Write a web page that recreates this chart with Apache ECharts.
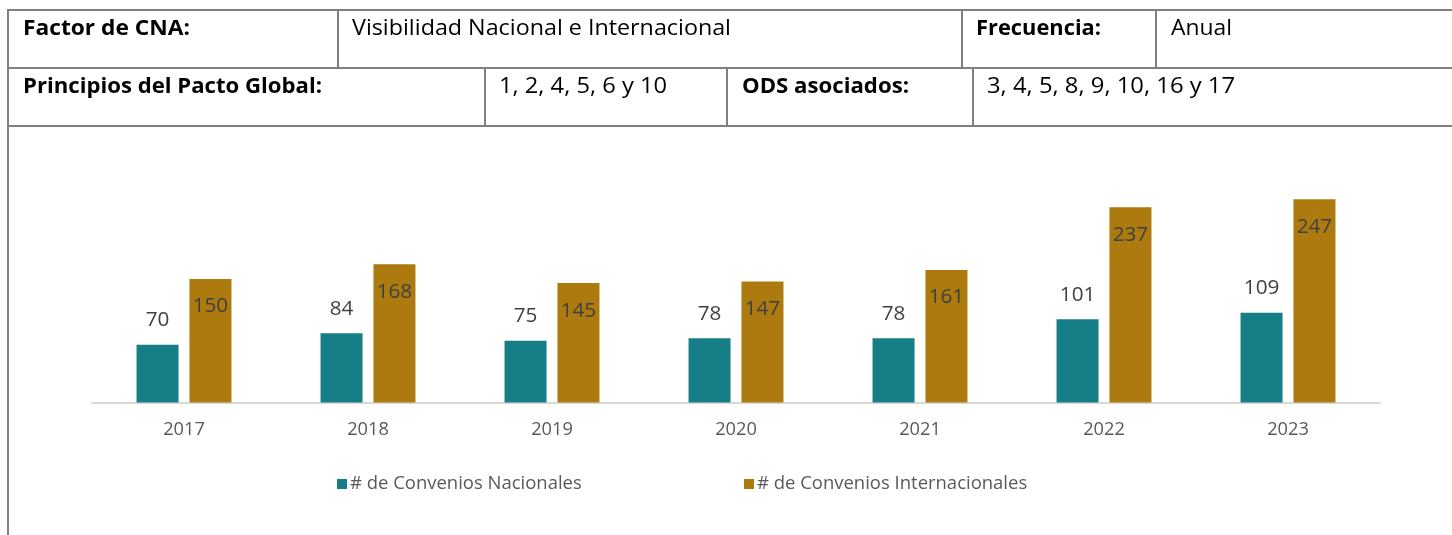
<!DOCTYPE html>
<html>
<head>
<meta charset="utf-8">
<script src="https://cdn.jsdelivr.net/npm/echarts@6/dist/echarts.min.js"></script>
<style>
  html, body { margin: 0; padding: 0; background: #ffffff; overflow: hidden; }
  #chart { width: 1452px; height: 535px; }
</style>
</head>
<body>
<div id="chart"></div>
<script>
// Chart data
const categories = ['2017', '2018', '2019', '2020', '2021', '2022', '2023'];
const nacionales = [70, 84, 75, 78, 78, 101, 109];
const internacionales = [150, 168, 145, 147, 161, 237, 247];
const seriesNames = ['# de Convenios Nacionales', '# de Convenios Internacionales'];
const valueMax = 300;

// Header table content
const row1Cells = ['Factor de CNA:', 'Visibilidad Nacional e Internacional', 'Frecuencia:', 'Anual'];
const row2Cells = ['Principios del Pacto Global:', '1, 2, 4, 5, 6 y 10', 'ODS asociados:', '3, 4, 5, 8, 9, 10, 16 y 17'];

const FONT = 'Open Sans';
const TEAL = '#167E86';
const GOLD = '#AD7A10';
const LINE = '#7f7f7f';

// Measure text so labels occupy a chosen width
const mctx = document.createElement('canvas').getContext('2d');
function textWidth(text, weight, size) {
  mctx.font = weight + ' ' + size + 'px "' + FONT + '"';
  return mctx.measureText(text).width;
}
function fitSize(text, weight, width) {
  return 100 * width / textWidth(text, weight, 100);
}

// Table text: fixed cap size, horizontally scaled to the cell text width
function cellText(text, bold, x, y, width, size) {
  const weight = bold ? 'bold' : 'normal';
  const w = textWidth(text, weight, size);
  return {
    type: 'text', x: x, y: y, scaleX: width / w, scaleY: 1,
    style: {
      text: text, x: 0, y: 0, fill: '#000000',
      font: weight + ' ' + size + 'px "' + FONT + '"',
      align: 'left', verticalAlign: 'middle'
    },
    silent: true
  };
}
function hLine(x1, x2, y) {
  return { type: 'line', shape: { x1: x1, y1: y, x2: x2, y2: y }, style: { stroke: LINE, lineWidth: 2 }, silent: true };
}
function vLine(x, y1, y2) {
  return { type: 'line', shape: { x1: x, y1: y1, x2: x, y2: y2 }, style: { stroke: LINE, lineWidth: 2 }, silent: true };
}

const row1X = [23, 352, 976, 1171];
const row1W = [167, 379, 125, 61];
const row2X = [23, 499, 742, 987];
const row2W = [299, 168, 167, 248];
const cellFont = 21;

const graphics = [
  hLine(7, 1452, 10), hLine(7, 1452, 68), hLine(7, 1452, 126),
  vLine(8, 9, 535),
  vLine(338, 10, 68), vLine(962, 10, 68), vLine(1156, 10, 68),
  vLine(485, 68, 126), vLine(727, 68, 126), vLine(973, 68, 126)
];
row1Cells.forEach((t, i) => graphics.push(cellText(t, i % 2 === 0, row1X[i], 29, row1W[i], cellFont)));
row2Cells.forEach((t, i) => graphics.push(cellText(t, i % 2 === 0, row2X[i], 87, row2W[i], cellFont)));

const labelSize = fitSize('150', 'normal', 35.5);
const axisSize = fitSize('2017', 'normal', 41.7);
const legendSize = fitSize(seriesNames[0], 'normal', 232);

const chart = echarts.init(document.getElementById('chart'), null, { renderer: 'canvas' });
chart.setOption({
  animation: false,
  backgroundColor: '#ffffff',
  textStyle: { fontFamily: FONT },
  grid: { left: 92, right: 72, top: 155.5, bottom: 132.5, containLabel: false },
  legend: [
    {
      data: [seriesNames[0]], left: 337, top: 475, icon: 'rect',
      itemWidth: 10, itemHeight: 10, itemGap: 0, padding: 0,
      textStyle: { color: '#595959', fontSize: legendSize, fontFamily: FONT, padding: [0, 0, 0, -2] }
    },
    {
      data: [seriesNames[1]], left: 744, top: 475, icon: 'rect',
      itemWidth: 10, itemHeight: 10, itemGap: 0, padding: 0,
      textStyle: { color: '#595959', fontSize: legendSize, fontFamily: FONT, padding: [0, 0, 0, -2] }
    }
  ],
  xAxis: {
    type: 'category',
    data: categories,
    axisTick: { show: false },
    axisLine: { lineStyle: { color: '#d9d9d9', width: 2 } },
    axisLabel: { color: '#595959', fontSize: axisSize, fontFamily: FONT, margin: 18 }
  },
  yAxis: {
    type: 'value', min: 0, max: valueMax, show: false,
    splitLine: { show: false }
  },
  series: [
    {
      name: seriesNames[0], type: 'bar', data: nacionales,
      barWidth: 42, barGap: '26%',
      itemStyle: { color: TEAL },
      label: { show: true, position: 'top', distance: 14, color: '#404040', fontSize: labelSize, fontFamily: FONT }
    },
    {
      name: seriesNames[1], type: 'bar', data: internacionales,
      barWidth: 42,
      itemStyle: { color: GOLD },
      label: { show: true, position: 'insideTop', distance: 17, color: '#404040', fontSize: labelSize, fontFamily: FONT }
    }
  ],
  graphic: graphics
});
</script>
</body>
</html>
